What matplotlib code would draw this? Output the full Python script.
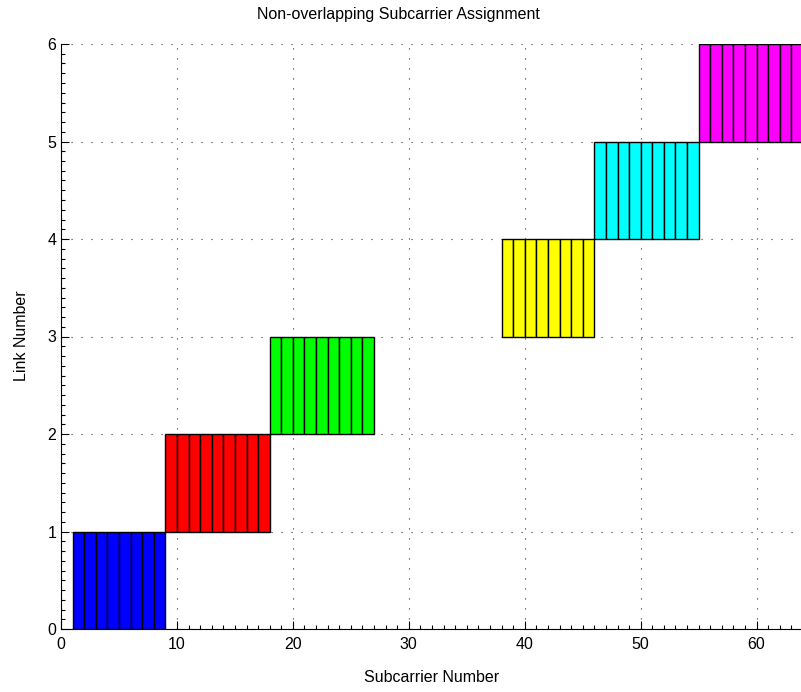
import numpy as np
import matplotlib
matplotlib.use("Agg")
import matplotlib.pyplot as plt
from matplotlib.ticker import MultipleLocator

plt.rcParams['font.family'] = ['Liberation Sans', 'DejaVu Sans']

# subcarriers given to each link (left edge of each unit-wide slot)
link1 = [1, 2, 3, 4, 5, 6, 7, 8]
link2 = [9, 10, 11, 12, 13, 14, 15, 16, 17]
link3 = [18, 19, 20, 21, 22, 23, 24, 25, 26]
link4 = [38, 39, 40, 41, 42, 43, 44, 45]
link5 = [46, 47, 48, 49, 50, 51, 52, 53, 54]
link6 = [55, 56, 57, 58, 59, 60, 61, 62, 63]
links = [link1, link2, link3, link4, link5, link6]
link_ids = [1, 2, 3, 4, 5, 6]
colors = ['#0000ff', '#ff0000', '#00ff00', '#ffff00', '#00ffff', '#ff00ff']

fig = plt.figure(figsize=(8.01, 6.92), dpi=100)
W, H = 801, 692
ax = fig.add_axes([61 / W, 1 - 629 / H, (803 - 61) / W, (629 - 44) / H])

for sc, lk, c in zip(links, link_ids, colors):
    ax.bar(sc, 1, width=1, bottom=lk - 1, align='edge', color=c,
           edgecolor='black', linewidth=1.0, zorder=3)

ax.set_xlim(0, 64)
ax.set_ylim(0, 6)
ax.xaxis.set_major_locator(MultipleLocator(10))
ax.xaxis.set_minor_locator(MultipleLocator(1))
ax.yaxis.set_major_locator(MultipleLocator(1))
ax.yaxis.set_minor_locator(MultipleLocator(0.1))
ax.tick_params(which='both', direction='in', labelsize=11.5, width=0.8)
ax.tick_params(which='major', length=6)
ax.tick_params(which='minor', length=3)
ax.tick_params(axis='x', pad=6)
ax.grid(True, which='major', linestyle=(0, (1, 8)), color='#333333',
        linewidth=0.8, zorder=1)

for s in ['top', 'right']:
    ax.spines[s].set_visible(False)
for s in ['left', 'bottom']:
    ax.spines[s].set_linewidth(0.8)
    ax.spines[s].set_zorder(4)

fig.text(398 / W, 1 - 14 / H, 'Non-overlapping Subcarrier Assignment',
         ha='center', va='center', fontsize=11.5)
fig.text(432 / W, 1 - 677 / H, 'Subcarrier Number',
         ha='center', va='center', fontsize=11.5)
fig.text(22 / W, 1 - 336 / H, 'Link Number', rotation=90,
         ha='center', va='center', fontsize=11.5)

fig.savefig('out.png', dpi=100)
